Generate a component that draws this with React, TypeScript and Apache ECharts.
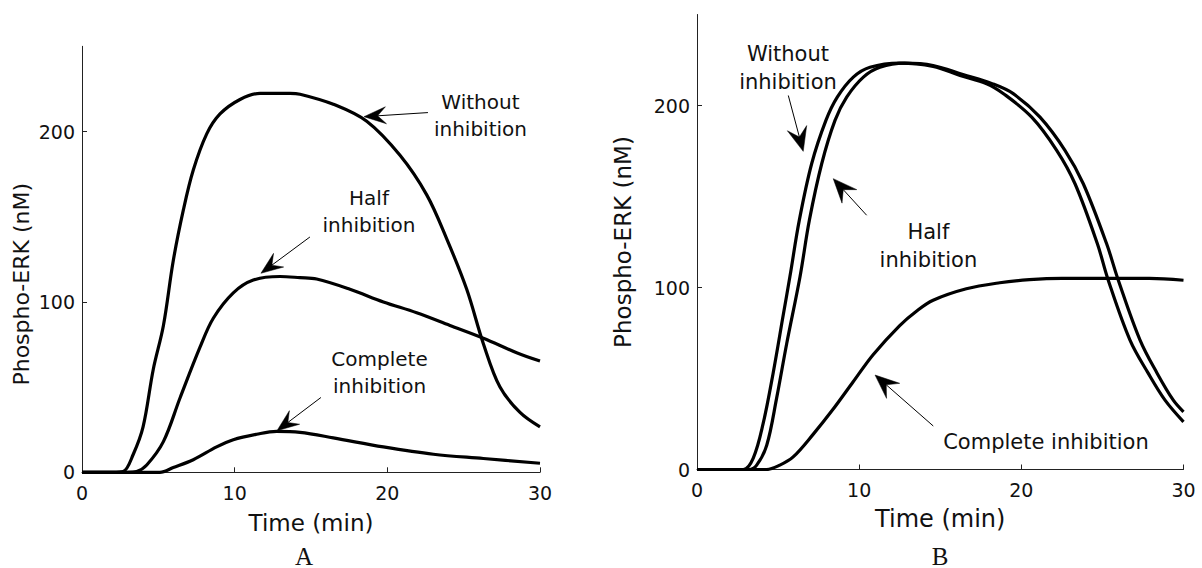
import React, { useEffect, useRef } from "react";
import * as echarts from "echarts";

// Panel A (left): time (min), phospho-ERK (nM)
const aWithout: number[][] = [
  [0, 0], [1, 0], [2, 0], [2.7, 0.5], [3.36, 10.6], [4.0, 26.6], [4.67, 60.5], [5.33, 86],
  [5.98, 124.3], [6.64, 154], [7.29, 177.4], [8.17, 198.6], [9.04, 210.3], [10.35, 218.8],
  [11.66, 222.4], [13.62, 222.4], [14.28, 221.9], [16.46, 216], [18.65, 206], [20.83, 186],
  [22.58, 162.8], [23.89, 137], [25.2, 107.4], [26.29, 75.5], [27.38, 50], [28.69, 35.1], [30, 26.6],
];
const aHalf: number[][] = [
  [0, 0], [3.0, 0], [3.58, 0.5], [4.24, 4.3], [5.33, 18], [6.42, 43.6], [7.73, 73.4], [8.6, 90.4],
  [9.91, 105.3], [11.22, 112.8], [12.97, 114.9], [14.28, 114.2], [15.37, 113.4], [17.55, 107.4],
  [19.74, 100], [21.92, 93.6], [24.1, 86.2], [26.29, 78.7], [28.47, 70.2], [30, 65.3],
];
const aComplete: number[][] = [
  [0, 0], [5.1, 0], [5.98, 2.8], [7.29, 7.4], [8.82, 14.9], [9.91, 19.1], [11.44, 22.3],
  [12.75, 24], [14.28, 23.4], [16.46, 20.2], [19.74, 14.9], [23.02, 10.6], [26.29, 8.1], [30, 5.3],
];

// Panel B (right)
const bWithout: number[][] = [
  [0, 0], [2.85, 0], [3.47, 6.3], [4.08, 25.3], [4.7, 53.2], [5.32, 85], [5.73, 106], [6.31, 137],
  [7.07, 168], [7.95, 191.8], [8.65, 204.6], [9.64, 215.6], [10.67, 221], [12.5, 223.3],
  [14.56, 221.5], [16.22, 216.5], [17.86, 212], [18.9, 206.5], [20.64, 193.6], [22.18, 175.4],
  [23.31, 157], [24.69, 124], [25.36, 104], [26.7, 71.1], [27.83, 52.8], [28.86, 38.1], [30, 26.2],
];
const bHalf: number[][] = [
  [0, 0], [3.2, 0], [3.68, 2.4], [4.3, 13.3], [4.91, 39.2], [5.53, 69.1], [6.35, 105.8], [6.93, 137],
  [7.69, 168], [8.51, 191.8], [9.23, 204.6], [10.26, 215.6], [11.28, 221], [12.8, 223.3],
  [14.56, 222], [16.4, 217], [18.2, 212], [19.5, 206.5], [21.15, 193.6], [22.69, 175.4],
  [23.82, 157], [25.26, 124], [25.98, 104], [27.32, 71.1], [28.38, 52.8], [29.37, 38.1], [30, 31.7],
];
const bComplete: number[][] = [
  [0, 0], [4.29, 0], [5.11, 2.4], [5.93, 6.9], [7.16, 19.3], [8.4, 33.2], [9.63, 48.2],
  [10.86, 63.1], [12.5, 79.1], [13.53, 87], [14.56, 93], [16.61, 99.3], [18.67, 102.6],
  [20.5, 104.3], [22.5, 105], [24.8, 105], [27.9, 105], [30, 104],
];

const yTickValues = [0, 100, 200];
const xAxisTitle = "Time (min)";
const yAxisTitle = "Phospho-ERK (nM)";
const panelLabels = ["A", "B"];

// annotations in data coordinates: text centre, arrow start, arrow tip
const annotations = [
  { grid: 0, text: "Without\ninhibition", at: [26.1, 209.2], from: [22.66, 211.1], to: [18.47, 208.7] },
  { grid: 0, text: "Half\ninhibition", at: [18.8, 153.1], from: [14.93, 138.1], to: [11.72, 116.8] },
  { grid: 0, text: "Complete\ninhibition", at: [19.49, 58.6], from: [15.65, 43.9], to: [12.77, 24.4] },
  { grid: 1, text: "Without\ninhibition", at: [5.61, 220.6], from: [5.63, 205.5], to: [6.55, 174.8] },
  { grid: 1, text: "Half\ninhibition", at: [14.27, 122.7], from: [10.46, 139.7], to: [8.4, 159.8] },
  { grid: 1, text: "Complete inhibition", at: [21.52, 15.3], from: [14.57, 23.9], to: [10.98, 51.9] },
];

const FONT = "DejaVu Sans";
const INK = "#111";

export default function App() {
  const ref = useRef<HTMLDivElement>(null);

  useEffect(() => {
    const chart = echarts.init(ref.current!, null, { renderer: "svg" });

    const mkX = (gridIndex: number, fs: number, gap: number) => ({
      type: "value",
      gridIndex,
      min: 0,
      max: 30,
      interval: 10,
      name: xAxisTitle,
      nameLocation: "middle",
      nameGap: gap,
      nameTextStyle: { fontFamily: FONT, fontSize: fs, color: INK },
      axisLine: { show: true, lineStyle: { color: "#222", width: 1 } },
      axisTick: { show: true, inside: true, length: 5, lineStyle: { color: "#222" } },
      axisLabel: { fontFamily: FONT, fontSize: 19, color: INK, margin: 11 },
      splitLine: { show: false },
    });
    const mkY = (gridIndex: number, fs: number, gap: number, pad: number[]) => ({
      type: "value",
      gridIndex,
      min: 0,
      max: 250,
      interval: 100,
      name: yAxisTitle,
      nameLocation: "middle",
      nameGap: gap,
      nameTextStyle: { fontFamily: FONT, fontSize: fs, color: INK, padding: pad },
      axisLine: { show: true, lineStyle: { color: "#222", width: 1 } },
      axisTick: { show: true, inside: true, length: 5, lineStyle: { color: "#222" }, customValues: yTickValues },
      axisLabel: { fontFamily: FONT, fontSize: 19, color: INK, margin: 7, customValues: yTickValues },
      splitLine: { show: false },
    });
    const mkS = (data: number[][], idx: number) => ({
      type: "line",
      xAxisIndex: idx,
      yAxisIndex: idx,
      data,
      showSymbol: false,
      smooth: 0.35,
      lineStyle: { color: "#000", width: 3.2 },
      silent: true,
    });

    chart.setOption({
      animation: false,
      backgroundColor: "#fff",
      grid: [
        { left: 82, right: 662, top: 46.3, bottom: 95.7 },
        { left: 697, right: 18.5, top: 14.5, bottom: 98.5 },
      ],
      xAxis: [mkX(0, 23, 39), mkX(1, 24, 37)],
      yAxis: [mkY(0, 22, 50, [0, 50, 0, 0]), mkY(1, 23, 63, [0, 0, 0, 0])],
      series: [
        mkS(aWithout, 0), mkS(aHalf, 0), mkS(aComplete, 0),
        mkS(bWithout, 1), mkS(bHalf, 1), mkS(bComplete, 1),
      ],
    });

    const elements: any[] = [];
    annotations.forEach((a) => {
      const fs = a.grid === 0 ? 20 : 21;
      const lh = a.grid === 0 ? 27 : 28;
      const L = a.grid === 0 ? 22 : 24;
      const W = a.grid === 0 ? 8.5 : 10;
      const c = chart.convertToPixel({ gridIndex: a.grid }, a.at) as number[];
      const f = chart.convertToPixel({ gridIndex: a.grid }, a.from) as number[];
      const t = chart.convertToPixel({ gridIndex: a.grid }, a.to) as number[];
      elements.push({
        type: "text",
        style: {
          text: a.text, x: c[0], y: c[1], align: "center", verticalAlign: "middle",
          fontFamily: FONT, fontSize: fs, lineHeight: lh, fill: INK,
        },
      });
      const dx = t[0] - f[0];
      const dy = t[1] - f[1];
      const len = Math.hypot(dx, dy);
      const ux = dx / len;
      const uy = dy / len;
      const nx = -uy;
      const ny = ux;
      const notch = [t[0] - ux * L * 0.62, t[1] - uy * L * 0.62];
      elements.push({
        type: "line",
        shape: { x1: f[0], y1: f[1], x2: notch[0], y2: notch[1] },
        style: { stroke: "#000", lineWidth: 1 },
      });
      elements.push({
        type: "polygon",
        shape: {
          points: [
            [t[0], t[1]],
            [t[0] - ux * L + nx * W, t[1] - uy * L + ny * W],
            notch,
            [t[0] - ux * L - nx * W, t[1] - uy * L - ny * W],
          ],
        },
        style: { fill: "#000", stroke: "#000", lineWidth: 0.5 },
      });
    });
    const labelX = [304, 940];
    panelLabels.forEach((lab, i) => {
      elements.push({
        type: "text",
        style: {
          text: lab, x: labelX[i], y: 556, align: "center", verticalAlign: "middle",
          fontFamily: "Liberation Serif", fontSize: 25, fill: INK,
        },
      });
    });
    chart.setOption({ graphic: { elements } });

    return () => chart.dispose();
  }, []);

  return (
    <div
      ref={ref}
      style={{ position: "fixed", left: 0, top: 0, width: 1202, height: 568, background: "#fff" }}
    />
  );
}
